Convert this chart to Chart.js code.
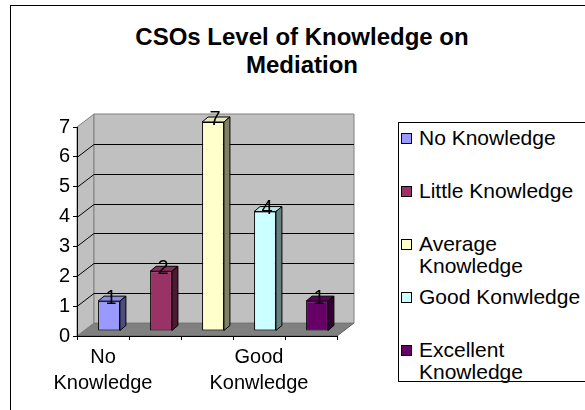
<!DOCTYPE html>
<html>
<head>
<meta charset="utf-8">
<script src="https://cdn.jsdelivr.net/npm/chart.js@4"></script>
<style>
  html, body { margin: 0; padding: 0; background: #fff; }
  body { width: 585px; height: 410px; overflow: hidden; position: relative; font-family: 'Liberation Sans', Arial, sans-serif; }
  #frame { position: absolute; left: 10px; top: 5px; width: 620px; height: 440px; border: 1px solid #000; }
  #title { position: absolute; left: 122px; width: 360px; top: 23px; text-align: center; font-weight: bold; font-size: 24px; line-height: 28px; }
  #chart { position: absolute; left: 0; top: 0; }
  #legend { position: absolute; left: 398px; top: 122px; width: 220px; height: 254px; padding-top: 4px; border: 1px solid #000; background: #fff; }
  .item { position: relative; height: 53px; }
  .swatch { position: absolute; left: 2px; top: 6px; width: 9px; height: 9px; border: 1px solid #000; }
  .text { margin-left: 20px; width: 170px; font-size: 21px; line-height: 22px; }
</style>
</head>
<body>
<div id="frame"></div>
<div id="title">CSOs Level of Knowledge on Mediation</div>
<canvas id="chart" width="380" height="410"></canvas>
<div id="legend"></div>
<script>
  const categories = ['No Knowledge', 'Little Knowledge', 'Average Knowledge', 'Good Konwledge', 'Excellent Knowledge'];
  const counts = [1, 2, 7, 4, 1];
  const xTickLabels = [['No', 'Knowledge'], '', '', ['Good', 'Konwledge'], ''];
  const barColors = ['#9999FF', '#993366', '#FFFFCC', '#CCFFFF', '#660066'];

  // wall depth and bar depth (3D look of the old Excel chart)
  const WALL_DX = 17, WALL_DY = -13;
  const BAR_DX = 6, BAR_DY = -5;
  const DEPTH_X = 6, DEPTH_Y = 5;

  function shade(hex, f) {
    const n = parseInt(hex.slice(1), 16);
    const r = Math.round(((n >> 16) & 255) * f);
    const g = Math.round(((n >> 8) & 255) * f);
    const b = Math.round((n & 255) * f);
    return `rgb(${r},${g},${b})`;
  }

  function poly(ctx, pts, fill, stroke) {
    ctx.beginPath();
    ctx.moveTo(pts[0][0], pts[0][1]);
    for (let i = 1; i < pts.length; i++) ctx.lineTo(pts[i][0], pts[i][1]);
    ctx.closePath();
    if (fill) { ctx.fillStyle = fill; ctx.fill(); }
    if (stroke) { ctx.strokeStyle = stroke; ctx.lineWidth = 1; ctx.stroke(); }
  }

  const threeD = {
    id: 'threeD',
    beforeDraw(chart) {
      const { ctx, chartArea: a, scales: { y } } = chart;
      const dx = WALL_DX, dy = WALL_DY;
      ctx.save();
      // floor
      poly(ctx, [[a.left, a.bottom], [a.left + dx, a.bottom + dy], [a.right + dx, a.bottom + dy], [a.right, a.bottom]], '#808080', '#606060');
      // side wall
      poly(ctx, [[a.left, a.top], [a.left + dx, a.top + dy], [a.left + dx, a.bottom + dy], [a.left, a.bottom]], '#C0C0C0', '#808080');
      // back wall
      poly(ctx, [[a.left + dx, a.top + dy], [a.right + dx, a.top + dy], [a.right + dx, a.bottom + dy], [a.left + dx, a.bottom + dy]], '#C0C0C0', '#808080');
      // grid lines on side and back wall
      y.ticks.forEach(t => {
        if (t.value === 0 || t.value === y.max) return;
        const py = Math.round(y.getPixelForValue(t.value)) + 0.5;
        ctx.beginPath();
        ctx.moveTo(a.left, py);
        ctx.lineTo(a.left + dx, py + dy);
        ctx.lineTo(a.right + dx, py + dy);
        ctx.strokeStyle = '#000';
        ctx.lineWidth = 1;
        ctx.stroke();
      });
      ctx.restore();
    },
    beforeDatasetsDraw(chart) {
      chart.ctx.save();
      chart.ctx.translate(BAR_DX, BAR_DY);
    },
    afterDatasetsDraw(chart) {
      const ctx = chart.ctx;
      const meta = chart.getDatasetMeta(0);
      meta.data.forEach((bar, i) => {
        const { x, y, base, width } = bar.getProps(['x', 'y', 'base', 'width'], true);
        const l = x - width / 2, r = x + width / 2;
        poly(ctx, [[l, y], [l + DEPTH_X, y - DEPTH_Y], [r + DEPTH_X, y - DEPTH_Y], [r, y]], shade(barColors[i], 0.9), '#000');
        poly(ctx, [[r, y], [r + DEPTH_X, y - DEPTH_Y], [r + DEPTH_X, base - DEPTH_Y], [r, base]], shade(barColors[i], 0.5), '#000');
        ctx.fillStyle = '#000';
        ctx.font = '20px "Liberation Sans", Arial, sans-serif';
        ctx.textAlign = 'center';
        ctx.textBaseline = 'middle';
        ctx.fillText(String(counts[i]), x + 2, y - 3);
      });
      ctx.restore();
    }
  };

  Chart.defaults.font.family = "'Liberation Sans', Arial, sans-serif";
  Chart.defaults.font.size = 20;
  Chart.defaults.color = '#000';

  new Chart(document.getElementById('chart'), {
    type: 'bar',
    data: {
      labels: categories,
      datasets: [{
        data: counts,
        backgroundColor: barColors,
        borderColor: '#000',
        borderWidth: 1,
        borderSkipped: false,
        barPercentage: 0.42,
        categoryPercentage: 1,
        clip: false
      }]
    },
    options: {
      responsive: false,
      animation: false,
      events: [],
      devicePixelRatio: 1,
      layout: { padding: { left: 20, top: 127, right: 43, bottom: 14 } },
      plugins: {
        legend: { display: false },
        title: { display: false },
        tooltip: { enabled: false }
      },
      scales: {
        x: {
          afterFit(scale) { scale.height = 60; },
          grid: { drawOnChartArea: false, drawTicks: true, tickLength: 4, color: '#000', offset: true },
          border: { display: true, color: '#000' },
          ticks: {
            autoSkip: false,
            maxRotation: 0,
            padding: 4,
            font: { size: 20, lineHeight: 1.3 },
            callback: (v, i) => xTickLabels[i]
          }
        },
        y: {
          min: 0,
          max: 7,
          afterFit(scale) { scale.width = 57; },
          grid: { drawOnChartArea: false, drawTicks: true, tickLength: 4, color: '#000' },
          border: { display: true, color: '#000' },
          ticks: { stepSize: 1, padding: 3, font: { size: 20 } }
        }
      }
    },
    plugins: [threeD]
  });

  // legend, one entry per category like the original
  const legend = document.getElementById('legend');
  categories.forEach((name, i) => {
    const item = document.createElement('div');
    item.className = 'item';
    const sw = document.createElement('span');
    sw.className = 'swatch';
    sw.style.background = barColors[i];
    const txt = document.createElement('div');
    txt.className = 'text';
    txt.textContent = name;
    item.appendChild(sw);
    item.appendChild(txt);
    legend.appendChild(item);
  });
</script>
</body>
</html>
